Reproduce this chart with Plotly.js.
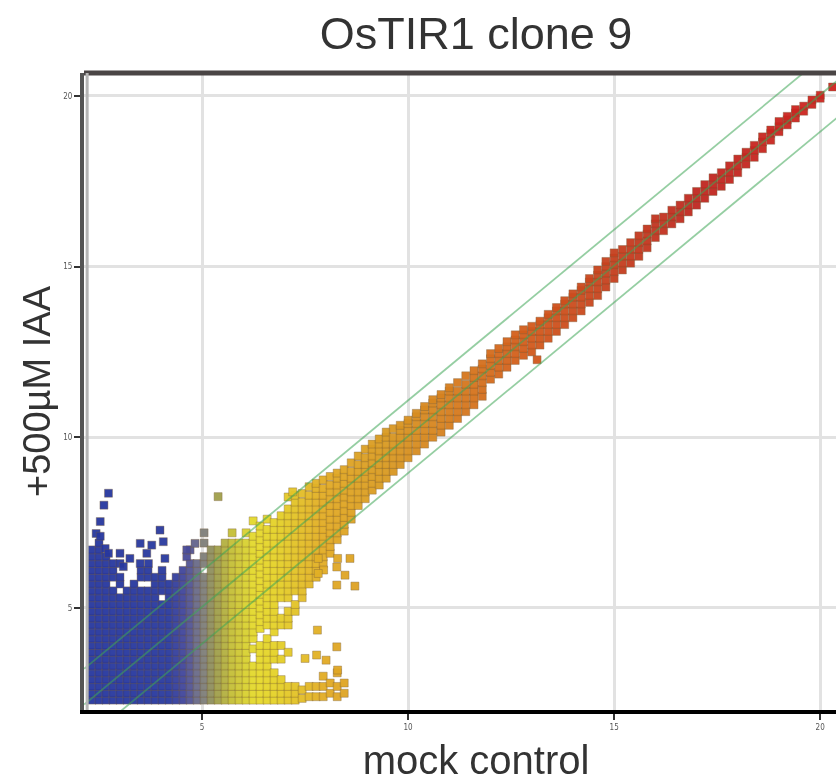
<!DOCTYPE html>
<html>
<head>
<meta charset="utf-8">
<script src="https://cdn.plot.ly/plotly-3.0.1.min.js"></script>
<style>html,body{margin:0;padding:0;background:#fff;overflow:hidden}#c{width:868px;height:782px;filter:blur(0.7px)}</style>
</head>
<body>
<div id="c"></div>
<script>
const chartTitle = "OsTIR1 clone 9";
const xLabel = "mock control";
const yLabel = "+500µM IAA";
const tickValues = [5, 10, 15, 20];
const tickLabels = ["5", "10", "15", "20"];
const guideX = [2.14, 21.2];
const guideUpper = [3.22, 22.28];
const guideMiddle = [2.17, 21.23];
const guideLower = [1.09, 20.15];

const blueColumns = [
 [2.33,[2.3,2.5,2.7,2.9,3.1,3.3,3.5,3.7,3.9,4.1,4.3,4.5,4.7,4.9,5.1,5.3,5.5,5.7,5.9,6.1,6.3,6.5,6.7]],
 [2.5,[2.3,2.5,2.7,2.9,3.1,3.3,3.5,3.7,3.9,4.1,4.3,4.5,4.7,4.9,5.1,5.3,5.5,5.7,5.9,6.1,6.3,6.5,6.7,6.9]],
 [2.67,[2.3,2.5,2.7,2.9,3.1,3.3,3.5,3.7,3.9,4.1,4.3,4.5,4.7,4.9,5.1,5.3,5.5,5.7,5.9,6.1,6.3,6.5]],
 [2.84,[2.3,2.5,2.7,2.9,3.1,3.3,3.5,3.7,3.9,4.1,4.3,4.5,4.7,4.9,5.1,5.3,5.5,5.9,6.1,6.3]],
 [3.01,[2.3,2.5,2.7,2.9,3.1,3.3,3.5,3.7,3.9,4.1,4.3,4.5,4.7,4.9,5.1,5.3,5.7,5.9,6.3]],
 [3.18,[2.3,2.5,2.7,2.9,3.1,3.3,3.5,3.7,3.9,4.1,4.3,4.5,4.7,4.9,5.1,5.3,5.5]],
 [3.35,[2.3,2.5,2.7,2.9,3.1,3.3,3.5,3.7,3.9,4.1,4.3,4.5,4.7,4.9,5.1,5.3,5.5,5.7]],
 [3.52,[2.3,2.5,2.7,2.9,3.1,3.3,3.5,3.7,3.9,4.1,4.3,4.5,4.7,4.9,5.1,5.3,5.5,5.9,6.1]],
 [3.69,[2.3,2.5,2.7,2.9,3.1,3.3,3.5,3.7,3.9,4.1,4.3,4.5,4.7,4.9,5.1,5.3,5.5,5.9,6.1]],
 [3.86,[2.3,2.5,2.7,2.9,3.1,3.3,3.5,3.7,3.9,4.1,4.3,4.5,4.7,4.9,5.1,5.3,5.5,5.7,5.9]],
 [4.03,[2.3,2.5,2.7,2.9,3.1,3.3,3.5,3.7,3.9,4.1,4.3,4.5,4.7,4.9,5.1,5.5,5.7,5.9,6.1]],
 [4.2,[2.3,2.5,2.7,2.9,3.1,3.3,3.5,3.7,3.9,4.1,4.3,4.5,4.7,4.9,5.1,5.3,5.5,5.7]],
 [4.37,[2.3,2.5,2.7,2.9,3.1,3.3,3.5,3.7,3.9,4.1,4.3,4.5,4.7,4.9,5.1,5.3,5.5,5.7,5.9]],
 [4.54,[2.3,2.5,2.7,2.9,3.1,3.3,3.5,3.7,3.9,4.1,4.3,4.5,4.7,4.9,5.1,5.3,5.5,5.7,5.9,6.1]],
 [4.71,[2.3,2.5,2.7,2.9,3.1,3.3,3.5,3.7,3.9,4.1,4.3,4.5,4.7,4.9,5.1,5.3,5.5,5.7,5.9,6.1,6.3]]
];
const blueFringe = [
 [2.73,8.36],[2.62,8.01],[2.53,7.53],[2.43,7.18],[2.53,7.1],[2.65,6.74],[2.73,6.6],
 [3.01,6.6],[3.25,6.45],[3.09,6.21],[3.5,6.89],[3.78,6.84],
 [3.98,7.28],[4.06,6.94],[3.66,6.6],[4.1,6.45],[3.5,6.3],[3.7,6.3],
 [4.63,6.5],[4.71,6.7],[4.83,6.89],[4.63,6.7]
];
const yellowColumns = [
 [4.88,[2.3,2.5,2.7,2.9,3.1,3.3,3.5,3.7,3.9,4.1,4.3,4.5,4.7,4.9,5.1,5.3,5.5,5.7,5.9,6.1,6.3]],
 [5.05,[2.3,2.5,2.7,2.9,3.1,3.3,3.5,3.7,3.9,4.1,4.3,4.5,4.7,4.9,5.1,5.3,5.5,5.7,5.9,6.3,6.5,6.9,7.2]],
 [5.22,[2.3,2.5,2.7,2.9,3.1,3.3,3.5,3.7,3.9,4.1,4.3,4.5,4.7,4.9,5.1,5.3,5.5,5.7,5.9,6.1,6.3,6.5,6.7]],
 [5.39,[2.3,2.5,2.7,2.9,3.1,3.3,3.5,3.7,3.9,4.1,4.3,4.5,4.7,4.9,5.1,5.3,5.5,5.7,5.9,6.1,6.3,6.5,6.7,8.26]],
 [5.56,[2.3,2.5,2.7,2.9,3.1,3.3,3.5,3.7,3.9,4.1,4.3,4.5,4.7,4.9,5.1,5.3,5.5,5.7,5.9,6.1,6.3,6.5,6.7,6.9]],
 [5.73,[2.3,2.5,2.7,2.9,3.1,3.3,3.5,3.7,3.9,4.1,4.3,4.5,4.7,4.9,5.1,5.3,5.5,5.7,5.9,6.1,6.3,6.5,6.7,6.9,7.2]],
 [5.9,[2.3,2.5,2.7,2.9,3.1,3.3,3.5,3.7,3.9,4.1,4.3,4.5,4.7,4.9,5.1,5.3,5.5,5.7,5.9,6.1,6.3,6.5,6.7,6.9]],
 [6.07,[2.3,2.5,2.7,2.9,3.1,3.3,3.5,3.7,3.9,4.1,4.3,4.5,4.7,4.9,5.1,5.3,5.5,5.7,5.9,6.1,6.3,6.5,6.7,6.9,7.2]],
 [6.24,[2.3,2.5,2.7,2.9,3.1,3.3,3.8,4.1,4.3,4.5,4.7,4.9,5.1,5.3,5.5,5.7,5.9,6.1,6.3,6.5,6.7,6.9,7.1,7.55]],
 [6.41,[2.3,2.5,2.7,2.9,3.1,3.3,3.5,3.7,3.9,4.4,4.6,4.8,5.0,5.2,5.4,5.6,5.8,6.0,6.2,6.4,6.6,6.8,7.0,7.2,7.4]],
 [6.58,[2.3,2.5,2.7,2.9,3.1,3.3,3.5,3.7,3.9,4.1,4.5,4.7,4.9,5.1,5.3,5.5,5.7,5.9,6.1,6.3,6.5,6.7,6.9,7.1,7.3,7.6]],
 [6.75,[2.3,2.5,2.7,2.9,3.1,3.5,3.7,3.9,4.3,4.5,4.7,4.9,5.1,5.3,5.5,5.7,5.9,6.1,6.3,6.5,6.7,6.9,7.1,7.3,7.5]],
 [6.92,[2.3,2.5,2.7,2.9,3.5,3.9,4.5,4.7,5.3,5.5,5.7,5.9,6.1,6.3,6.5,6.7,6.9,7.1,7.3,7.5,7.7]],
 [7.09,[2.3,2.5,2.7,3.7,4.5,4.7,4.9,5.3,5.5,5.7,5.9,6.1,6.3,6.5,6.7,6.9,7.1,7.3,7.5,7.7,7.9,8.25]],
 [7.26,[2.3,2.5,2.7,4.9,5.1,5.5,5.7,5.9,6.1,6.3,6.5,6.7,6.9,7.1,7.3,7.5,7.7,7.9,8.1,8.3]]
];
const bandColumns = [
 [7.43,[2.35,2.6,5.3,5.5,5.7,5.9,6.1,6.3,6.5,6.7,6.9,7.1,7.3,7.5,7.7,7.9,8.1,8.35]],
 [7.6,[2.4,2.7,5.7,5.9,6.1,6.3,6.5,6.7,6.9,7.1,7.3,7.5,7.7,7.9,8.1,8.3,8.55]],
 [7.77,[2.4,2.7,5.9,6.1,6.3,6.5,6.7,6.9,7.1,7.3,7.5,7.7,7.9,8.1,8.3,8.5,8.65]],
 [7.94,[2.4,2.7,3.0,6.3,6.5,6.7,6.9,7.1,7.3,7.5,7.7,7.9,8.1,8.3,8.5,8.75]],
 [8.11,[2.5,2.8,6.6,6.8,7.0,7.2,7.4,7.6,7.8,8.0,8.2,8.4,8.6,8.85]],
 [8.28,[2.4,2.7,3.1,7.0,7.2,7.4,7.6,7.8,8.0,8.2,8.4,8.6,8.8,8.95]],
 [8.45,[2.5,2.8,7.25,7.45,7.65,7.85,8.05,8.25,8.45,8.65,8.85,9.05]],
 [8.62,[7.6,7.8,8.0,8.2,8.4,8.6,8.8,9.0,9.25]],
 [8.79,[8.0,8.2,8.4,8.6,8.8,9.0,9.2,9.45]],
 [8.96,[8.2,8.4,8.6,8.8,9.0,9.2,9.4,9.65]],
 [9.13,[8.45,8.65,8.85,9.05,9.25,9.45,9.65,9.8]],
 [9.3,[8.6,8.8,9.0,9.2,9.4,9.6,9.8,9.95]],
 [9.47,[8.8,9.0,9.2,9.4,9.6,9.8,10.0,10.15]],
 [9.64,[9.0,9.2,9.4,9.6,9.8,10.0,10.25]],
 [9.81,[9.2,9.4,9.6,9.8,10.0,10.2,10.35]],
 [10.0,[9.4,9.6,9.8,10.0,10.2,10.4,10.5]],
 [10.2,[9.6,9.8,10.0,10.2,10.4,10.6,10.7]],
 [10.4,[9.8,10.0,10.2,10.4,10.6,10.8,10.9]],
 [10.6,[10.0,10.2,10.4,10.6,10.8,11.0,11.1]],
 [10.8,[10.15,10.35,10.55,10.75,10.95,11.15,11.25]],
 [11.0,[10.35,10.55,10.75,10.95,11.15,11.35,11.45]],
 [11.2,[10.55,10.75,10.95,11.15,11.35,11.6]],
 [11.4,[10.75,10.95,11.15,11.35,11.55,11.8]],
 [11.6,[10.95,11.15,11.35,11.55,11.75,11.95]],
 [11.8,[11.2,11.4,11.6,11.8,12.0,12.15]],
 [12.0,[11.7,11.9,12.1,12.3,12.45]],
 [12.2,[11.85,12.05,12.25,12.45,12.6]],
 [12.4,[12.05,12.25,12.45,12.65,12.8]],
 [12.6,[12.25,12.45,12.65,12.85,13.0]],
 [12.8,[12.4,12.6,12.8,13.0,13.15]],
 [13.0,[12.5,12.7,12.9,13.1,13.25]],
 [13.2,[12.7,12.9,13.1,13.3,13.4]],
 [13.4,[12.9,13.1,13.3,13.5,13.6]],
 [13.6,[13.1,13.3,13.5,13.7,13.8]],
 [13.8,[13.3,13.5,13.7,13.9,14.0]],
 [14.0,[13.5,13.7,13.9,14.1,14.2]],
 [14.2,[13.7,13.9,14.1,14.3,14.4]],
 [14.4,[13.95,14.15,14.35,14.55,14.65]],
 [14.6,[14.15,14.35,14.55,14.75,14.9]],
 [14.8,[14.4,14.6,14.8,15.0,15.15]],
 [15.0,[14.65,14.85,15.05,15.25,15.4]],
 [15.2,[14.9,15.1,15.3,15.5]],
 [15.4,[15.1,15.3,15.5,15.7]],
 [15.6,[15.3,15.5,15.7,15.9]],
 [15.8,[15.55,15.75,15.95,16.1]],
 [16.0,[15.85,16.05,16.25,16.4]],
 [16.2,[16.05,16.25,16.45]],
 [16.4,[16.25,16.45,16.65]],
 [16.6,[16.4,16.6,16.8]],
 [16.8,[16.6,16.8,17.0]],
 [17.0,[16.8,17.0,17.2]],
 [17.2,[17.0,17.2,17.4]],
 [17.4,[17.2,17.4,17.6]],
 [17.6,[17.35,17.55,17.75]],
 [17.8,[17.55,17.75,17.95]],
 [18.0,[17.75,17.95,18.15]],
 [18.2,[18.0,18.2,18.35]],
 [18.4,[18.2,18.4,18.55]],
 [18.6,[18.45,18.65,18.8]],
 [18.8,[18.7,18.9,19.0]],
 [19.0,[18.95,19.1,19.25]],
 [19.2,[19.15,19.3,19.4]],
 [19.4,[19.35,19.5,19.6]],
 [19.6,[19.55,19.7]],
 [19.8,[19.75,19.88]],
 [20.0,[19.93,20.02]]
];
const looseGenes = [
 [7.8,4.35],[8.27,3.86],[7.5,3.52],[7.78,3.62],[8.01,3.47],[8.29,3.18],[8.29,6.45],[8.59,6.45],
 [7.95,6.11],[7.82,6.01],[8.47,5.96],[8.27,5.67],[8.71,5.64],[8.27,6.2],[7.82,6.45],[7.2,8.4],
 [13.13,12.27],[20.3,20.26]
];
const colorStops = [
 [0,"#26369f"],[0.116,"#2a3a9f"],[0.137,"#45489a"],[0.158,"#7a7a82"],[0.174,"#989850"],
 [0.195,"#c4be38"],[0.226,"#e6dc2c"],[0.263,"#e4cc28"],[0.316,"#e2aa24"],[0.395,"#d99a22"],
 [0.474,"#d67e1e"],[0.579,"#d2591c"],[0.684,"#c6401f"],[0.789,"#bf2820"],[0.947,"#cf2420"],[1,"#cf2420"]
];

const px = [], py = [];
[blueColumns, yellowColumns, bandColumns].forEach(group => group.forEach(col => col[1].forEach(y => { px.push(col[0]); py.push(y); })));
blueFringe.concat(looseGenes).forEach(p => { px.push(p[0]); py.push(p[1]); });

const guideStyle = {color: "rgba(62,165,85,0.55)", width: 1.8};
const traces = [
 {type: "scatter", mode: "markers", x: px, y: py, hoverinfo: "skip",
  marker: {symbol: "square", size: 8, color: px, cmin: 2, cmax: 21, colorscale: colorStops, showscale: false,
           opacity: 0.95, line: {color: "rgba(120,95,60,0.4)", width: 1}}},
 {type: "scatter", mode: "lines", x: guideX, y: guideUpper, line: guideStyle, hoverinfo: "skip"},
 {type: "scatter", mode: "lines", x: guideX, y: guideMiddle, line: guideStyle, hoverinfo: "skip"},
 {type: "scatter", mode: "lines", x: guideX, y: guideLower, line: guideStyle, hoverinfo: "skip"}
];
const labelFont = {family: "Liberation Sans, Arial, sans-serif", size: 40, color: "#333"};
const yLabelFont = {family: "Liberation Sans, Arial, sans-serif", size: 38, color: "#333"};
const tickFont = {family: "DejaVu Sans Condensed, DejaVu Sans, sans-serif", size: 8, color: "#555"};
const layout = {
 width: 868, height: 782, autosize: false, showlegend: false,
 paper_bgcolor: "#fff", plot_bgcolor: "#fff",
 margin: {l: 84, r: 0, t: 73, b: 72},
 title: {text: chartTitle, font: {family: labelFont.family, size: 45, color: "#333"}, x: 0.5, xref: "paper", xanchor: "center", y: 0.958, yanchor: "middle"},
 xaxis: {range: [2.136, 21.16], tickvals: tickValues, ticktext: tickLabels, tickfont: tickFont,
         ticks: "outside", ticklen: 6, tickwidth: 2, tickcolor: "#333",
         showgrid: true, gridcolor: "#e2e2e2", gridwidth: 3, zeroline: false,
         showline: true, linecolor: "#000", linewidth: 4,
         title: {text: xLabel, font: labelFont, standoff: 18}},
 yaxis: {range: [2.01, 20.67], tickvals: tickValues, ticktext: tickLabels, tickfont: tickFont,
         ticks: "outside", ticklen: 6, tickwidth: 2, tickcolor: "#333",
         showgrid: true, gridcolor: "#e2e2e2", gridwidth: 3, zeroline: false,
         showline: true, linecolor: "#555", linewidth: 4,
         title: {text: yLabel, font: yLabelFont, standoff: 2}},
 shapes: [
  {type: "line", xref: "paper", yref: "paper", x0: 0, x1: 1, y0: 1, y1: 1, line: {color: "#4a4545", width: 5}},
  {type: "line", xref: "paper", yref: "paper", x0: 0.004, x1: 0.004, y0: 0, y1: 1, line: {color: "#b5b5b5", width: 3}}
 ]
};
Plotly.newPlot("c", traces, layout, {displayModeBar: false, staticPlot: true});
</script>
</body>
</html>
